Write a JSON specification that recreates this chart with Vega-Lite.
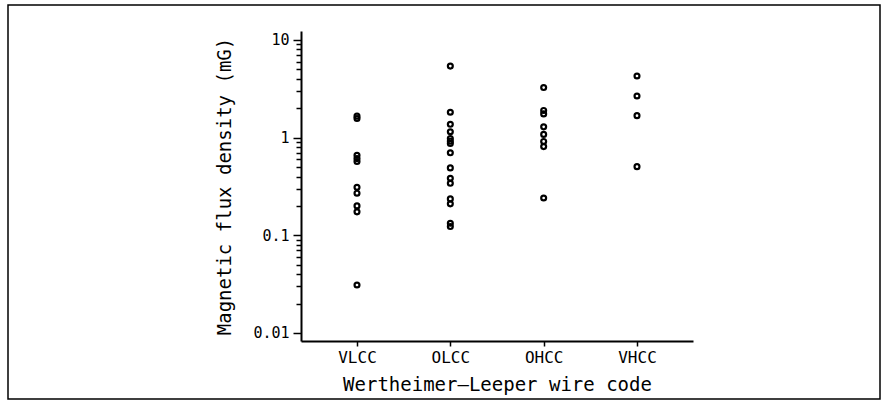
{
  "$schema": "https://vega.github.io/schema/vega-lite/v6.json",
  "width": 872,
  "height": 394,
  "autosize": "none",
  "padding": {"left": 8, "top": 5, "right": 6, "bottom": 6},
  "background": "white",
  "config": {
    "view": {"stroke": "black", "strokeWidth": 1.5},
    "font": "DejaVu Sans Mono",
    "axis": {"grid": false}
  },
  "data": {
    "values": [
      {"code": "VLCC", "mG": 1.57},
      {"code": "VLCC", "mG": 1.66},
      {"code": "VLCC", "mG": 0.66},
      {"code": "VLCC", "mG": 0.61},
      {"code": "VLCC", "mG": 0.57},
      {"code": "VLCC", "mG": 0.31},
      {"code": "VLCC", "mG": 0.27},
      {"code": "VLCC", "mG": 0.2},
      {"code": "VLCC", "mG": 0.174},
      {"code": "VLCC", "mG": 0.031},
      {"code": "OLCC", "mG": 5.4},
      {"code": "OLCC", "mG": 1.82},
      {"code": "OLCC", "mG": 1.37},
      {"code": "OLCC", "mG": 1.15},
      {"code": "OLCC", "mG": 0.98},
      {"code": "OLCC", "mG": 0.92},
      {"code": "OLCC", "mG": 0.87},
      {"code": "OLCC", "mG": 0.7},
      {"code": "OLCC", "mG": 0.49},
      {"code": "OLCC", "mG": 0.384},
      {"code": "OLCC", "mG": 0.341},
      {"code": "OLCC", "mG": 0.236},
      {"code": "OLCC", "mG": 0.21},
      {"code": "OLCC", "mG": 0.133},
      {"code": "OLCC", "mG": 0.123},
      {"code": "OHCC", "mG": 3.26},
      {"code": "OHCC", "mG": 1.9},
      {"code": "OHCC", "mG": 1.75},
      {"code": "OHCC", "mG": 1.29},
      {"code": "OHCC", "mG": 1.08},
      {"code": "OHCC", "mG": 0.915},
      {"code": "OHCC", "mG": 0.81},
      {"code": "OHCC", "mG": 0.241},
      {"code": "VHCC", "mG": 4.28},
      {"code": "VHCC", "mG": 2.67},
      {"code": "VHCC", "mG": 1.68},
      {"code": "VHCC", "mG": 0.505}
    ]
  },
  "mark": {"type": "point", "shape": "circle", "filled": false, "stroke": "black", "strokeWidth": 2.2, "size": 24, "opacity": 1},
  "encoding": {
    "x": {
      "field": "code",
      "type": "nominal",
      "sort": ["VLCC", "OLCC", "OHCC", "VHCC"],
      "scale": {"type": "point", "range": [293, 685], "padding": 0.6},
      "axis": {
        "title": "Wertheimer\u2013Leeper wire code",
        "orient": "bottom",
        "offset": -58,
        "grid": false,
        "labelAngle": 0,
        "domainColor": "black",
        "domainWidth": 2,
        "tickColor": "black",
        "tickWidth": 1.5,
        "tickSize": 5,
        "labelColor": "black",
        "labelFontSize": 16,
        "labelPadding": 3,
        "titleColor": "black",
        "titleFontSize": 19,
        "titleFontWeight": "normal",
        "titlePadding": 10
      }
    },
    "y": {
      "field": "mG",
      "type": "quantitative",
      "scale": {"type": "log", "domain": [0.00828, 12.36], "range": [336, 26], "nice": false, "zero": false},
      "axis": {
        "title": "Magnetic flux density (mG)",
        "orient": "left",
        "offset": -293,
        "grid": false,
        "values": [0.01, 0.02, 0.03, 0.04, 0.05, 0.06, 0.07, 0.08, 0.09, 0.1, 0.2, 0.3, 0.4, 0.5, 0.6, 0.7, 0.8, 0.9, 1, 2, 3, 4, 5, 6, 7, 8, 9, 10],
        "format": "~g",
        "labelExpr": "datum.value == 0.01 || datum.value == 0.1 || datum.value == 1 || datum.value == 10 ? datum.label : ''",
        "tickSize": {"condition": {"test": "datum.value == 0.01 || datum.value == 0.1 || datum.value == 1 || datum.value == 10", "value": 8}, "value": 5},
        "labelOverlap": false,
        "domainColor": "black",
        "domainWidth": 2,
        "tickColor": "black",
        "tickWidth": 1.5,
        "labelColor": "black",
        "labelFontSize": 15,
        "labelPadding": 4,
        "titleColor": "black",
        "titleFontSize": 19,
        "titleFontWeight": "normal",
        "titlePadding": 18
      }
    }
  }
}
